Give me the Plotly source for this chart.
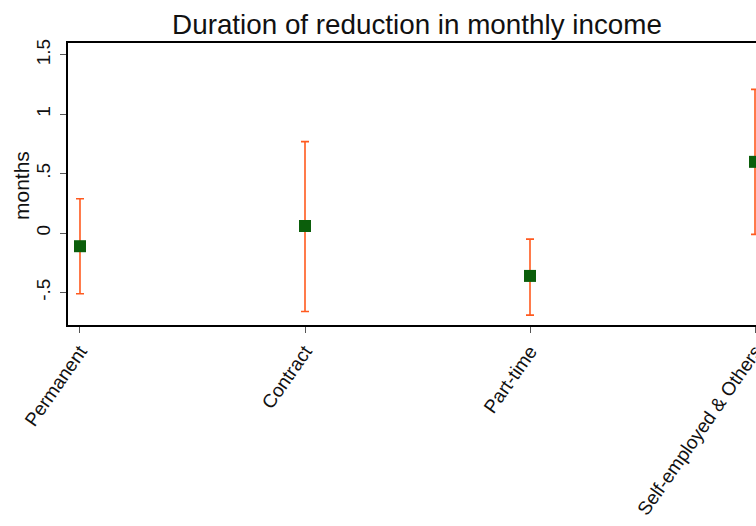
import plotly.graph_objects as go

categories = ["Permanent", "Contract", "Part-time", "Self-employed & Others"]
estimate = [-0.11, 0.06, -0.36, 0.60]
ci_upper = [0.29, 0.77, -0.05, 1.21]
ci_lower = [-0.51, -0.66, -0.69, -0.01]
y_tickvals = [-0.5, 0, 0.5, 1, 1.5]
y_ticktext = ["-.5", "0", ".5", "1", "1.5"]

xpos = list(range(1, len(categories) + 1))
err_plus = [u - e for u, e in zip(ci_upper, estimate)]
err_minus = [e - l for e, l in zip(estimate, ci_lower)]

fig = go.Figure()
fig.add_trace(go.Scatter(
    x=xpos, y=estimate, mode="markers",
    marker=dict(symbol="square", size=12, color="#0b5e0b"),
    error_y=dict(type="data", symmetric=False, array=err_plus, arrayminus=err_minus,
                 color="#ff5a1f", thickness=1.6, width=4),
    cliponaxis=False, showlegend=False,
))

font_family = "Liberation Sans, Arial, sans-serif"
W, H = 756, 526
fig.update_layout(
    width=W, height=H,
    paper_bgcolor="white", plot_bgcolor="white",
    margin=dict(l=68, r=0, t=43, b=201, autoexpand=False),
    font=dict(family=font_family, color="#111111"),
    title=dict(text="Duration of reduction in monthly income", x=417 / W, xref="container",
               xanchor="center", y=1 - 24 / H, yref="container", yanchor="middle",
               font=dict(size=27.8, color="#111111")),
    xaxis=dict(range=[0.9467, 4.0044], tickvals=xpos, ticktext=categories, tickangle=-55,
               showline=True, linecolor="#000000", linewidth=1.5, mirror=True, automargin=False,
               ticks="outside", ticklen=6, tickcolor="#555555", showgrid=False, zeroline=False,
               ticklabeloverflow="allow",
               tickfont=dict(size=19, family=font_family)),
    yaxis=dict(range=[-0.773, 1.6], tickvals=y_tickvals, ticktext=y_ticktext, tickangle=-90,
               showline=True, linecolor="#000000", linewidth=1.5, mirror=False, automargin=False,
               ticks="outside", ticklen=6, tickcolor="#555555", showgrid=False, zeroline=False,
               ticklabelstandoff=3,
               tickfont=dict(size=19, family=font_family)),
    annotations=[dict(text="months", x=0, xref="paper", xanchor="center", xshift=-47,
                      y=0.5, yref="paper", yanchor="middle", yshift=-2, textangle=-90,
                      showarrow=False, font=dict(size=21, family=font_family, color="#111111"))],
)

fig.write_html(
    "out.html",
    config={"displayModeBar": False},
    post_script="document.body.style.margin='0';document.body.style.overflow='hidden';",
)
